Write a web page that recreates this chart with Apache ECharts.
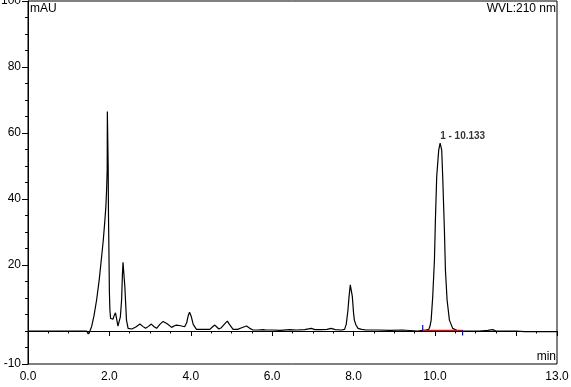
<!DOCTYPE html>
<html>
<head>
<meta charset="utf-8">
<script src="https://cdn.jsdelivr.net/npm/echarts@6/dist/echarts.min.js"></script>
<style>
html,body{margin:0;padding:0;background:#fff;}
#chart{width:571px;height:387px;}
</style>
</head>
<body>
<div id="chart"></div>
<script>
// Chromatogram signal: [time (min), absorbance (mAU)]
var signalTimes = [0,1.0,1.44,1.48,1.52,1.563,1.62,1.686,1.75,1.809,1.85,1.89,1.915,1.931,1.946,1.95,1.962,1.97,1.978,1.988,2.0,2.012,2.03,2.05,2.09,2.12,2.15,2.18,2.21,2.233,2.27,2.30,2.32,2.335,2.35,2.38,2.42,2.46,2.55,2.65,2.75,2.82,2.89,2.96,3.03,3.10,3.16,3.24,3.32,3.42,3.53,3.60,3.65,3.75,3.85,3.90,3.94,3.97,4.01,4.06,4.14,4.30,4.47,4.53,4.59,4.64,4.69,4.75,4.79,4.85,4.90,4.95,5.04,5.15,5.25,5.37,5.45,5.53,5.65,5.78,5.85,6.0,6.2,6.43,6.6,6.8,6.96,7.05,7.2,7.35,7.45,7.55,7.70,7.78,7.82,7.86,7.89,7.92,7.94,7.97,8.00,8.02,8.06,8.11,8.2,8.31,8.6,8.9,9.2,9.57,9.70,9.78,9.848,9.88,9.907,9.946,9.988,10.012,10.044,10.093,10.128,10.14,10.167,10.191,10.233,10.258,10.299,10.356,10.437,10.56,10.68,11.09,11.3,11.42,11.5,12.0,12.2,13.0];
var signalValues = [0,0,0,-0.9,0,1.3,4.5,9.4,15.5,22.5,27.5,33.6,38,42.7,48.8,66.5,66.0,50,35,25,12,6.5,3.8,3.3,3.6,4.8,5.5,3.5,1.5,1.0,4.3,9.4,17,20.8,20.3,13.4,3.3,0.8,0.6,1.2,2.1,1.4,0.8,1.4,2.1,1.3,0.8,2.0,2.9,2.2,1.1,1.6,1.8,1.6,1.3,2.5,4.8,5.7,4.5,2.0,0.5,0.5,0.5,1.2,1.8,1.2,0.6,1.0,1.3,2.4,3.0,2.0,0.5,0.5,1.0,1.5,0.8,0.3,0.3,0.4,0.3,0.3,0.2,0.4,0.3,0.4,0.8,0.4,0.4,0.5,0.8,0.4,0.3,0.5,2,6,10.5,14.0,14.2,10.5,5.5,3.3,1.8,0.8,0.5,0.3,0.3,0.2,0.3,0.0,0.2,0.3,0.5,1.5,3.3,10.4,21.5,33.6,46.8,54.8,56.9,56.9,54.8,46.8,30.6,18.5,9.4,3.3,0.8,0.1,0.0,0.0,0.2,0.4,0.0,0.0,-0.2,-0.2];

// Integrated peak
var peakName = "1 - 10.133";
var peakTime = 10.128;
var peakHeight = 56.9;
var integBaseline = [[9.70, 0.2], [10.68, 0.2]];
var integStartMark = [[9.70, 0.2], [9.70, 1.8]];
var integEndMark = [[10.68, 0.2], [10.68, -1.4]];

// Axis ticks / labels
var xLabelValues = [0, 2, 4, 6, 8, 10, 13];
var yLabelValues = [-10, 20, 40, 60, 80, 100];
var yMajorTicks = [-10, 20, 40, 60, 80, 100];

var signalData = signalTimes.map(function (t, i) { return [t, signalValues[i]]; });

var font = 'Liberation Sans';
var chart = echarts.init(document.getElementById('chart'), null, { renderer: 'canvas' });
chart.setOption({
  animation: false,
  backgroundColor: '#fff',
  grid: { left: 28, top: 1, right: 14, bottom: 23, show: true, borderColor: '#000', borderWidth: 1, containLabel: false, outerBoundsMode: 'none' },
  xAxis: [{
    type: 'value', min: 0, max: 13, interval: 2,
    axisLine: { show: true, lineStyle: { color: '#000', width: 1 } },
    axisTick: { show: true, length: 5, lineStyle: { color: '#000' } },
    minorTick: { show: true, splitNumber: 4, length: 2.5, lineStyle: { color: '#000' } },
    splitLine: { show: false },
    axisLabel: { customValues: xLabelValues, formatter: function (v) { return v.toFixed(1); }, margin: 7, fontFamily: font, fontSize: 12, color: '#000', hideOverlap: false }
  }],
  yAxis: [{
    type: 'value', min: -10, max: 100, interval: 5,
    axisLine: { show: true, lineStyle: { color: '#000', width: 1 } },
    axisTick: { show: true, length: 3, lineStyle: { color: '#000' } },
    splitLine: { show: false },
    axisLabel: { show: false }
  }, {
    type: 'value', min: -10, max: 100, interval: 5, position: 'left', offset: 0,
    axisLine: { show: false },
    axisTick: { show: true, customValues: yMajorTicks, length: 6, lineStyle: { color: '#000' } },
    splitLine: { show: false },
    axisLabel: { customValues: yLabelValues, margin: 7, fontFamily: font, fontSize: 12, color: '#000', hideOverlap: false }
  }],
  series: [{
    type: 'line', data: signalData, showSymbol: false, symbol: 'none',
    lineStyle: { color: '#000', width: 1.2 }, sampling: null, z: 3,
    emphasis: { disabled: true }
  }, {
    type: 'line', data: integBaseline, showSymbol: false, symbol: 'none',
    lineStyle: { color: '#ff0000', width: 1.2 }, z: 4
  }, {
    type: 'line', data: integStartMark, showSymbol: false, symbol: 'none',
    lineStyle: { color: '#0000ff', width: 1.2 }, z: 4
  }, {
    type: 'line', data: integEndMark, showSymbol: false, symbol: 'none',
    lineStyle: { color: '#0000ff', width: 1.2 }, z: 4
  }, {
    type: 'scatter', data: [[peakTime, peakHeight]], symbolSize: 1,
    itemStyle: { color: 'rgba(0,0,0,0)' }, z: 5, silent: true,
    label: {
      show: true, position: 'top', distance: 1, align: 'left',
      formatter: peakName, fontFamily: font, fontSize: 10,
      fontWeight: 'bold', color: '#000'
    }
  }],
  graphic: [
    { type: 'text', left: 30, top: 3, style: { text: 'mAU', fontFamily: font, fontSize: 12, fill: '#000' } },
    { type: 'text', right: 15, top: 3, style: { text: 'WVL:210 nm', fontFamily: font, fontSize: 12, fill: '#000' } },
    { type: 'text', right: 15, top: 351, style: { text: 'min', fontFamily: font, fontSize: 12, fill: '#000' } }
  ]
});
</script>
</body>
</html>
